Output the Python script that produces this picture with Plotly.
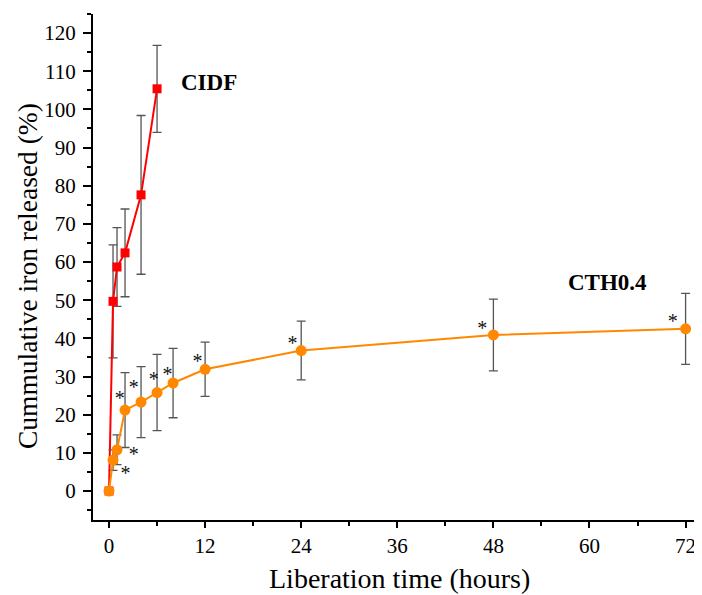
import plotly.graph_objects as go

# CIDF data
cidf_t = [0, 0.5, 1, 2, 4, 6]
cidf_y = [0, 49.7, 58.7, 62.4, 77.6, 105.4]
cidf_err = [0, 14.8, 10.3, 11.5, 20.8, 11.4]

# CTH0.4 data
cth_t = [0, 0.5, 1, 2, 4, 6, 8, 12, 24, 48, 72]
cth_y = [0, 8.1, 10.8, 21.2, 23.3, 25.8, 28.3, 31.9, 36.8, 40.9, 42.5]
cth_err = [0, 2.7, 3.9, 9.8, 9.3, 10.0, 9.1, 7.1, 7.7, 9.4, 9.3]

# significance asterisks (data coords of the text anchor)
star_t = [2.05, 3.09, 1.34, 3.09, 5.6, 7.3, 11.05, 22.9, 46.6, 70.4]
star_y = [4.3, 9.3, 23.8, 26.6, 28.8, 30.1, 33.6, 38.2, 42.1, 43.9]

x_ticks = [0, 12, 24, 36, 48, 60, 72]
y_ticks = list(range(0, 121, 10))

serif = "Liberation Serif, serif"
err_col = "#555555"

fig = go.Figure()
fig.add_trace(go.Scatter(
    x=cidf_t, y=cidf_y, mode="lines+markers",
    line=dict(color="#FF0000", width=2),
    marker=dict(symbol="square", size=9, color="#FF0000"),
    error_y=dict(type="data", array=cidf_err, visible=True, color=err_col, thickness=1.3, width=4.5),
    showlegend=False, cliponaxis=False))
fig.add_trace(go.Scatter(
    x=cth_t, y=cth_y, mode="lines+markers",
    line=dict(color="#FF8800", width=2),
    marker=dict(symbol="circle", size=11, color="#FF8800"),
    error_y=dict(type="data", array=cth_err, visible=True, color=err_col, thickness=1.3, width=4.5),
    showlegend=False, cliponaxis=False))
fig.add_trace(go.Scatter(
    x=star_t, y=star_y, mode="text", text=["*"] * len(star_t),
    textposition="middle center",
    textfont=dict(family=serif, size=20, color="#111111"),
    showlegend=False, hoverinfo="skip"))

fig.add_annotation(x=6, y=105.4, xref="x", yref="y", text="<b>CIDF</b>", showarrow=False,
                   xshift=52, yshift=6, font=dict(family=serif, size=23, color="black"))
fig.add_annotation(x=72, y=42.5, xref="x", yref="y", text="<b>CTH0.4</b>", showarrow=False,
                   xshift=-78, yshift=46, font=dict(family=serif, size=23, color="black"))
fig.add_annotation(x=0.5, y=0, xref="paper", yref="paper", text="Liberation time (hours)",
                   showarrow=False, xanchor="center", yanchor="middle", xshift=3, yshift=-58,
                   font=dict(family=serif, size=28, color="black"))
fig.add_annotation(x=0, y=0.5, xref="paper", yref="paper", text="Cummulative iron released (%)",
                   showarrow=False, xanchor="center", yanchor="middle", xshift=-66, yshift=-9,
                   textangle=-90, font=dict(family=serif, size=27.5, color="black"))

# page body has an 8px margin, so the figure is sized/offset to compensate
fig.update_layout(
    width=694, height=587,
    margin=dict(l=85, r=2, t=6, b=75),
    paper_bgcolor="white", plot_bgcolor="white",
    font=dict(family=serif, color="black"),
)
fig.update_xaxes(
    range=[-2, 73.8], tickvals=x_ticks, ticktext=[str(v) for v in x_ticks],
    showgrid=False, zeroline=False, showline=True, linecolor="black", linewidth=2,
    ticks="outside", ticklen=6, tickwidth=1.5, tickcolor="black",
    minor=dict(dtick=6, tick0=0, ticks="outside", ticklen=4, tickwidth=1.5, tickcolor="black"),
    tickfont=dict(family=serif, size=21), automargin=False,
)
fig.update_yaxes(
    range=[-7.6, 125], tickvals=y_ticks, ticktext=[str(v) for v in y_ticks],
    showgrid=False, zeroline=False, showline=True, linecolor="black", linewidth=2,
    ticks="outside", ticklen=8, tickwidth=1.5, tickcolor="black",
    minor=dict(dtick=5, tick0=0, ticks="outside", ticklen=4, tickwidth=1.5, tickcolor="black"),
    tickfont=dict(family=serif, size=21), ticklabelstandoff=3, automargin=False,
)

fig.write_html("out.html")
